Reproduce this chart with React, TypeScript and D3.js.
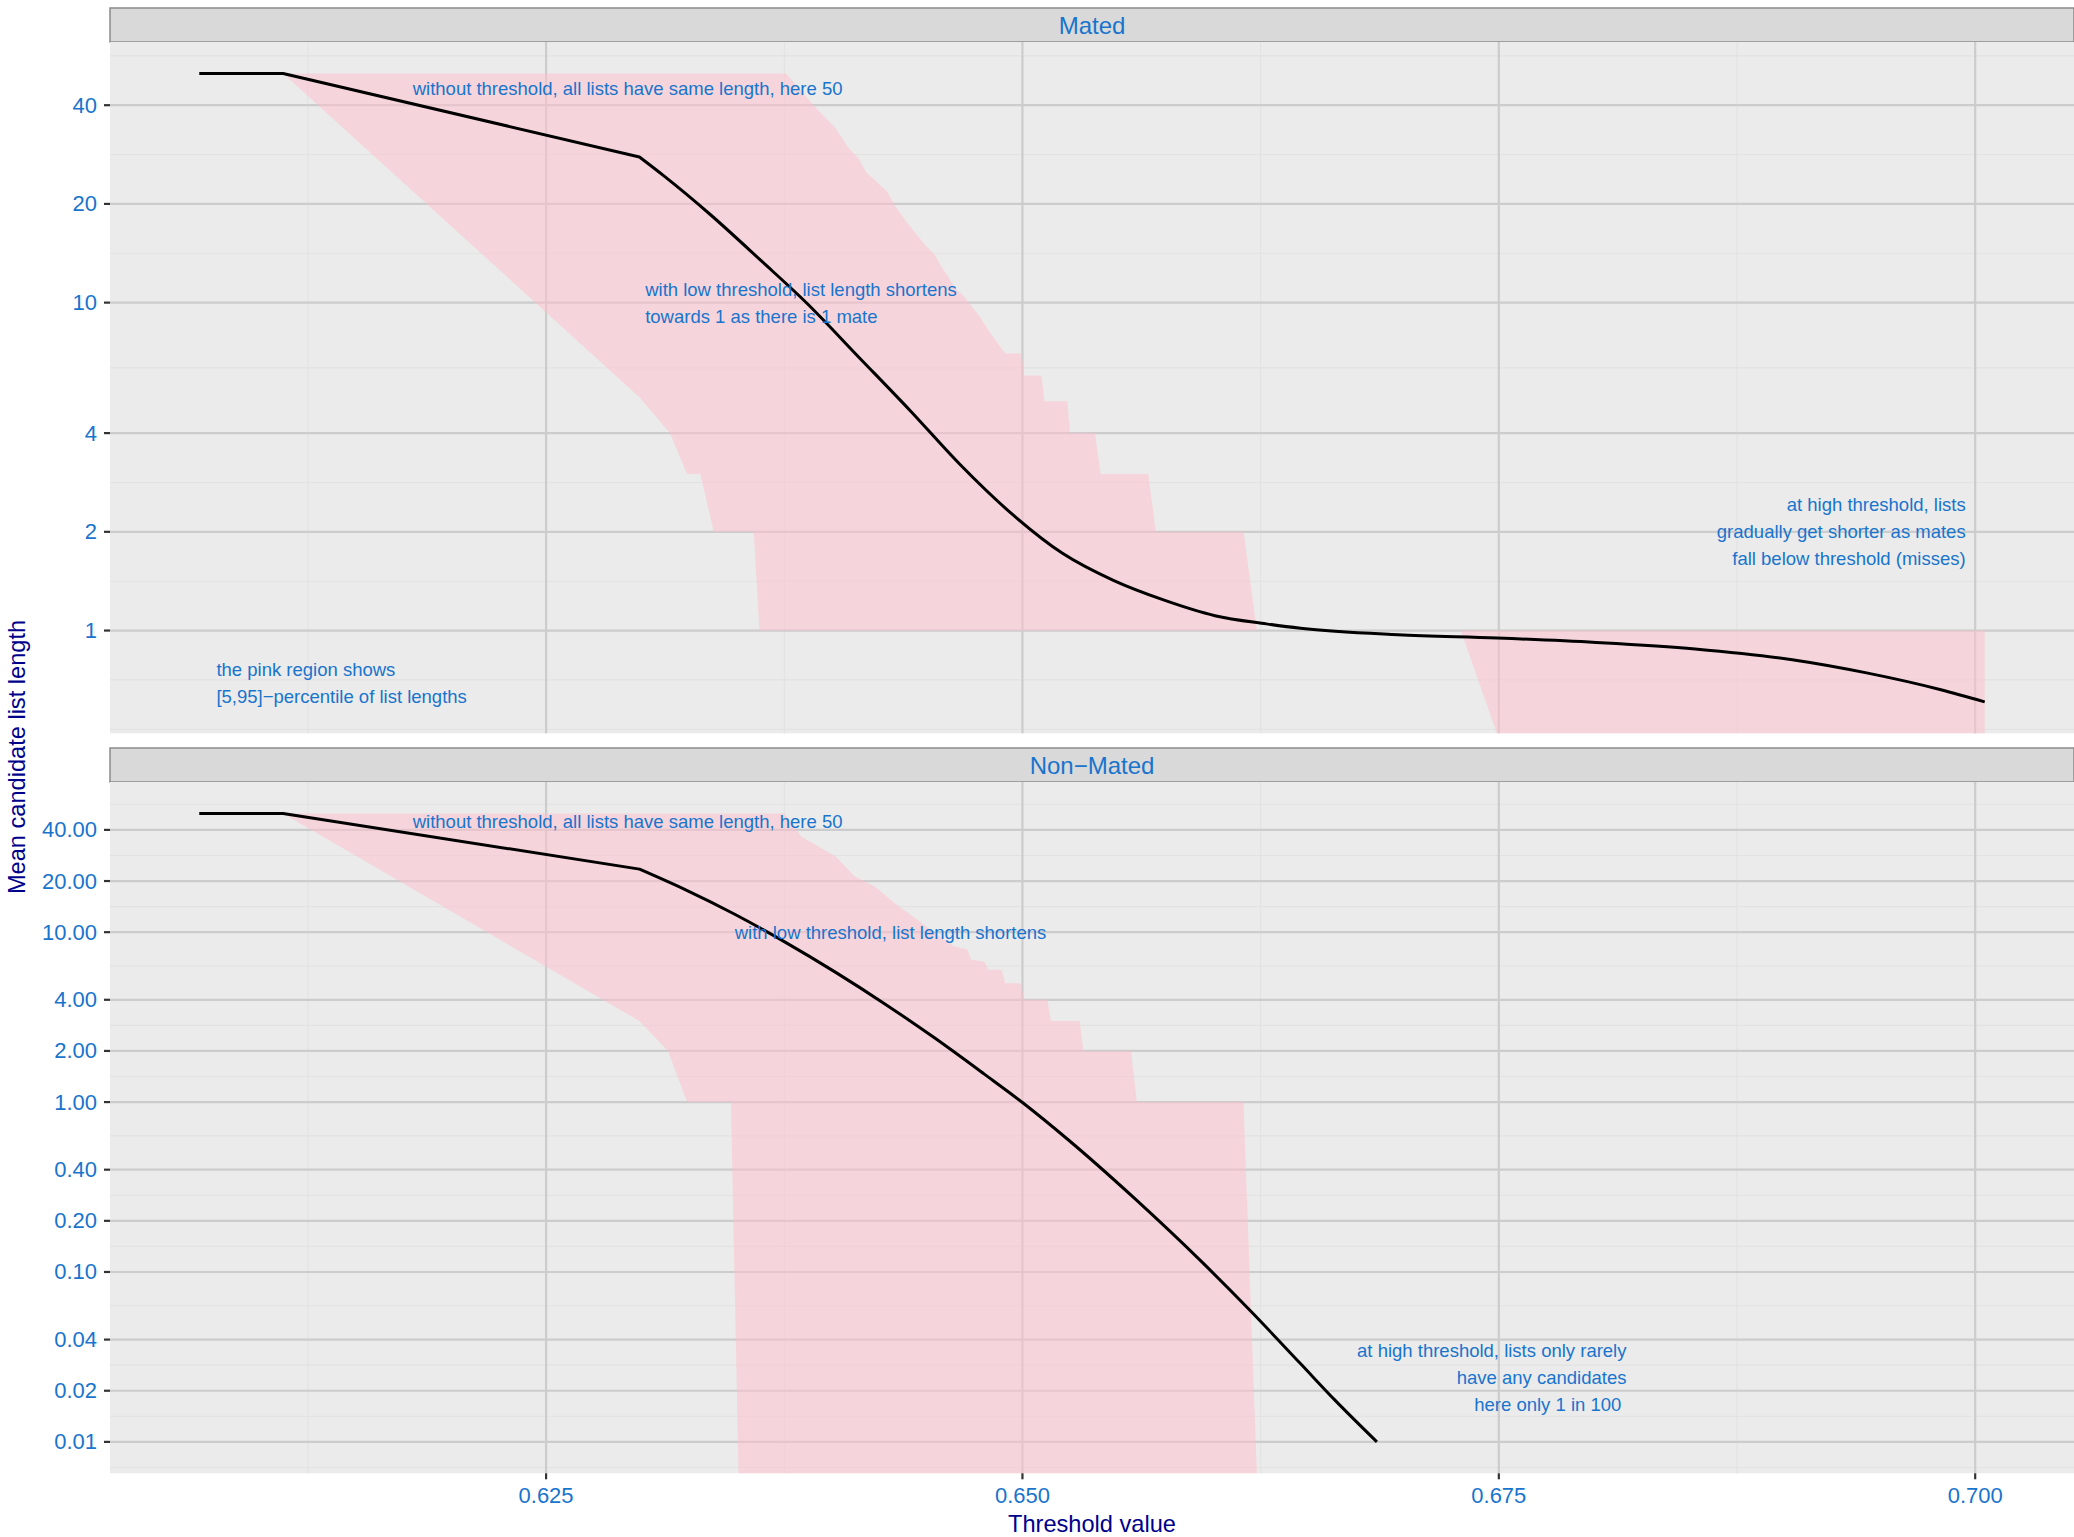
import * as d3 from 'd3';

const W = 2074;
const H = 1537;

// Mated: mean list length over threshold
const matedMeanX = [0.6068, 0.6112, 0.6299, 0.6312, 0.6336, 0.6363, 0.6387, 0.6414, 0.6441, 0.6467, 0.6494, 0.6521, 0.6548, 0.6574, 0.6601, 0.6628, 0.6646, 0.6697, 0.6749, 0.6801, 0.6853, 0.6904, 0.6943, 0.6982, 0.7005];
const matedMean = [50, 50, 27.8, 24.3, 18.6, 13.4, 9.94, 6.83, 4.69, 3.22, 2.28, 1.72, 1.42, 1.24, 1.11, 1.048, 1.016, 0.971, 0.949, 0.92, 0.879, 0.815, 0.743, 0.66, 0.606];

// Mated: 95th percentile
const matedUpperX = [0.6112, 0.6376, 0.6392, 0.6402, 0.6408, 0.6414, 0.6418, 0.6423, 0.6429, 0.6433, 0.6438, 0.6445, 0.6449, 0.6454, 0.6457, 0.6461, 0.6465, 0.6469, 0.6473, 0.6478, 0.6483, 0.6491, 0.64995, 0.6501, 0.651, 0.65115, 0.65235, 0.6525, 0.6538, 0.6541, 0.6566, 0.657, 0.6616, 0.6623, 0.7005];
const matedUpper = [50, 50, 39, 34, 30, 27.5, 25, 23.5, 21.8, 19.8, 18, 16, 15, 14, 13, 12, 11, 10.5, 9.8, 9, 8.1, 7, 7, 6, 6, 5, 5, 4, 4, 3, 3, 2, 2, 1, 1];

// Mated: 5th percentile (0 = no candidates)
const matedLowerX = [0.6112, 0.6299, 0.6315, 0.6324, 0.6331, 0.6338, 0.6359, 0.6362, 0.673, 0.6749, 0.7005];
const matedLower = [50, 5.15, 4, 3, 3, 2, 2, 1, 1, 0, 0];

// Non-Mated
const nonMatedMeanX = [0.6068, 0.6112, 0.6299, 0.6323, 0.6349, 0.6375, 0.6402, 0.6428, 0.6454, 0.648, 0.65, 0.6524, 0.6559, 0.6594, 0.662, 0.6646, 0.6664, 0.6686];
const nonMatedMean = [50, 50, 23.5, 17.8, 12.75, 8.8, 5.8, 3.77, 2.38, 1.46, 0.994, 0.6, 0.27, 0.115, 0.0585, 0.0288, 0.0176, 0.01];

const nonMatedUpperX = [0.6112, 0.6375, 0.6384, 0.6402, 0.6412, 0.64225, 0.6433, 0.6445, 0.6456, 0.6464, 0.6471, 0.6473, 0.648, 0.6482, 0.6489, 0.6491, 0.6499, 0.6501, 0.6513, 0.6515, 0.653, 0.6532, 0.6557, 0.656, 0.6616, 0.6623, 0.7005];
const nonMatedUpper = [50, 50, 36.5, 27.9, 21.3, 18.6, 14.8, 11.8, 9.45, 8.25, 7.9, 6.9, 6.7, 6, 6, 5, 5, 4, 4, 3, 3, 2, 2, 1, 1, 0, 0];

const nonMatedLowerX = [0.6112, 0.6299, 0.6314, 0.6324, 0.6347, 0.6351, 0.7005];
const nonMatedLower = [50, 3, 2, 1, 1, 0, 0];

const xTicks = [0.625, 0.65, 0.675, 0.7];
const matedTicks = [1, 2, 4, 10, 20, 40];
const nonMatedTicks = [0.01, 0.02, 0.04, 0.1, 0.2, 0.4, 1, 2, 4, 10, 20, 40];

const BLUE = '#1874CD';
const NAVY = '#00008B';
const FONT = '"Liberation Sans", Arial, Helvetica, sans-serif';

const left = 110;
const right = 2074;
const stripH = 34;
const panels = [
  { title: 'Mated', top: 42, bottom: 733.3, ticks: matedTicks, fmt: (v: number) => String(v),
    mx: matedMeanX, my: matedMean, ux: matedUpperX, uy: matedUpper, lx: matedLowerX, ly: matedLower },
  { title: 'Non\u2212Mated', top: 782, bottom: 1473.3, ticks: nonMatedTicks, fmt: (v: number) => v.toFixed(2),
    mx: nonMatedMeanX, my: nonMatedMean, ux: nonMatedUpperX, uy: nonMatedUpper, lx: nonMatedLowerX, ly: nonMatedLower },
];

const notes = [
  { panel: 0, x: 0.618, y: 45, anchor: 'start', lines: ['without threshold, all lists have same length, here 50'] },
  { panel: 0, x: 0.6302, y: 10, anchor: 'start', lines: ['with low threshold, list length shortens', 'towards 1 as there is 1 mate'] },
  { panel: 0, x: 0.6995, y: 2, anchor: 'end', lines: ['at high threshold, lists', 'gradually get shorter as mates', 'fall below threshold (misses)'] },
  { panel: 0, x: 0.6077, y: 0.694, anchor: 'start', lines: ['the pink region shows', '[5,95]\u2212percentile of list lengths'] },
  { panel: 1, x: 0.618, y: 45, anchor: 'start', lines: ['without threshold, all lists have same length, here 50'] },
  { panel: 1, x: 0.6349, y: 10, anchor: 'start', lines: ['with low threshold, list length shortens'] },
  { panel: 1, x: 0.6817, y: 0.024, anchor: 'end', lines: ['at high threshold, lists only rarely', 'have any candidates', 'here only 1 in 100 '] },
];

// ggplot-style minor breaks (midpoints, extended one step past the ends)
function minorBreaks(b: number[], lo: number, hi: number) {
  const bd = b[1] - b[0];
  let bb = [...b];
  if (lo < bb[0]) bb = [bb[0] - bd, ...bb];
  if (hi > bb[bb.length - 1]) bb = [...bb, bb[bb.length - 1] + bd];
  const out: number[] = [];
  for (let i = 0; i < bb.length - 1; i++) out.push(bb[i], (bb[i] + bb[i + 1]) / 2);
  out.push(bb[bb.length - 1]);
  return out.filter((v) => v >= lo && v <= hi);
}

const allX = [...matedMeanX, ...matedUpperX, ...matedLowerX, ...nonMatedMeanX, ...nonMatedUpperX, ...nonMatedLowerX];
const [x0, x1] = d3.extent(allX) as [number, number];
const xPad = (x1 - x0) * 0.05;
const x = d3.scaleLinear().domain([x0 - xPad, x1 + xPad]).range([left, right]);
const xMinor = minorBreaks(xTicks, x0 - xPad, x1 + xPad);

function Panel({ p, idx }: { p: (typeof panels)[number]; idx: number }) {
  const vals = [...p.my, ...p.uy, ...p.ly].filter((v) => v > 0);
  const lo = Math.log10(d3.min(vals)!);
  const hi = Math.log10(d3.max(vals)!);
  const pad = (hi - lo) * 0.05;
  const y = d3.scaleLog().domain([10 ** (lo - pad), 10 ** (hi + pad)]).range([p.bottom, p.top]);
  const yv = (v: number) => (v > 0 ? y(v) : p.bottom);
  const yMinor = minorBreaks(p.ticks.map(Math.log10), lo - pad, hi + pad);

  const upper = p.ux.map((xv, i) => [x(xv), yv(p.uy[i])] as [number, number]);
  const lower = p.lx.map((xv, i) => [x(xv), yv(p.ly[i])] as [number, number]).reverse();
  const ribbon = d3.line()([...upper, ...lower]) + 'Z';

  // straight head up to the kink, smooth curve after it
  const pts = p.mx.map((xv, i) => [x(xv), y(p.my[i])] as [number, number]);
  const head = d3.line()(pts.slice(0, 3)) ?? '';
  const tail = d3.line().curve(d3.curveMonotoneX)(pts.slice(2)) ?? '';

  return (
    <g>
      <rect x={left} y={p.top - stripH} width={right - left} height={stripH} fill="#D9D9D9" stroke="#8A8A8A" strokeWidth={1.5} />
      <text x={(left + right) / 2} y={p.top - stripH / 2} textAnchor="middle" dominantBaseline="central" fontSize={24} fill={BLUE}>{p.title}</text>
      <rect x={left} y={p.top} width={right - left} height={p.bottom - p.top} fill="#EBEBEB" />
      {yMinor.map((m) => (
        <line key={'ym' + m} x1={left} x2={right} y1={y(10 ** m)} y2={y(10 ** m)} stroke="#E2E2E2" strokeWidth={1.1} />
      ))}
      {xMinor.map((m) => (
        <line key={'xm' + m} x1={x(m)} x2={x(m)} y1={p.top} y2={p.bottom} stroke="#E2E2E2" strokeWidth={1.1} />
      ))}
      {p.ticks.map((t) => (
        <line key={'yg' + t} x1={left} x2={right} y1={y(t)} y2={y(t)} stroke="#CCCCCC" strokeWidth={2.2} />
      ))}
      {xTicks.map((t) => (
        <line key={'xg' + t} x1={x(t)} x2={x(t)} y1={p.top} y2={p.bottom} stroke="#CCCCCC" strokeWidth={2.2} />
      ))}
      <path d={ribbon} fill="#FFC0CB" fillOpacity={0.5} />
      <path d={head + tail.replace(/^M/, 'L')} fill="none" stroke="#000" strokeWidth={3} strokeLinejoin="round" />
      {notes.filter((n) => n.panel === idx).map((n, k) => (
        <text key={k} x={x(n.x)} textAnchor={n.anchor} fontSize={18.5} fill={BLUE} style={{ whiteSpace: 'pre' }}>
          {n.lines.map((l, i) => (
            <tspan key={i} x={x(n.x)} y={y(n.y) + (i - (n.lines.length - 1) / 2) * 27} dominantBaseline="central">{l}</tspan>
          ))}
        </text>
      ))}
      {p.ticks.map((t) => (
        <g key={'yt' + t}>
          <line x1={left - 6} x2={left} y1={y(t)} y2={y(t)} stroke="#333" strokeWidth={2.2} />
          <text x={left - 13} y={y(t)} textAnchor="end" dominantBaseline="central" fontSize={22} fill={BLUE}>{p.fmt(t)}</text>
        </g>
      ))}
    </g>
  );
}

export default function App() {
  const bottom = panels[1].bottom;
  return (
    <svg width={W} height={H} style={{ position: 'absolute', left: 0, top: 0, background: '#fff' }} fontFamily={FONT}>
      <rect width={W} height={H} fill="#fff" />
      {panels.map((p, i) => <Panel key={p.title} p={p} idx={i} />)}
      {xTicks.map((t) => (
        <g key={'xt' + t}>
          <line x1={x(t)} x2={x(t)} y1={bottom} y2={bottom + 6} stroke="#333" strokeWidth={2.2} />
          <text x={x(t)} y={bottom + 22} textAnchor="middle" dominantBaseline="central" fontSize={22} fill={BLUE}>{t.toFixed(3)}</text>
        </g>
      ))}
      <text x={(left + right) / 2} y={1524} textAnchor="middle" dominantBaseline="central" fontSize={23.6} fill={NAVY}>Threshold value</text>
      <text transform="translate(17,757) rotate(-90)" textAnchor="middle" dominantBaseline="central" fontSize={23.6} fill={NAVY}>Mean candidate list length</text>
    </svg>
  );
}
